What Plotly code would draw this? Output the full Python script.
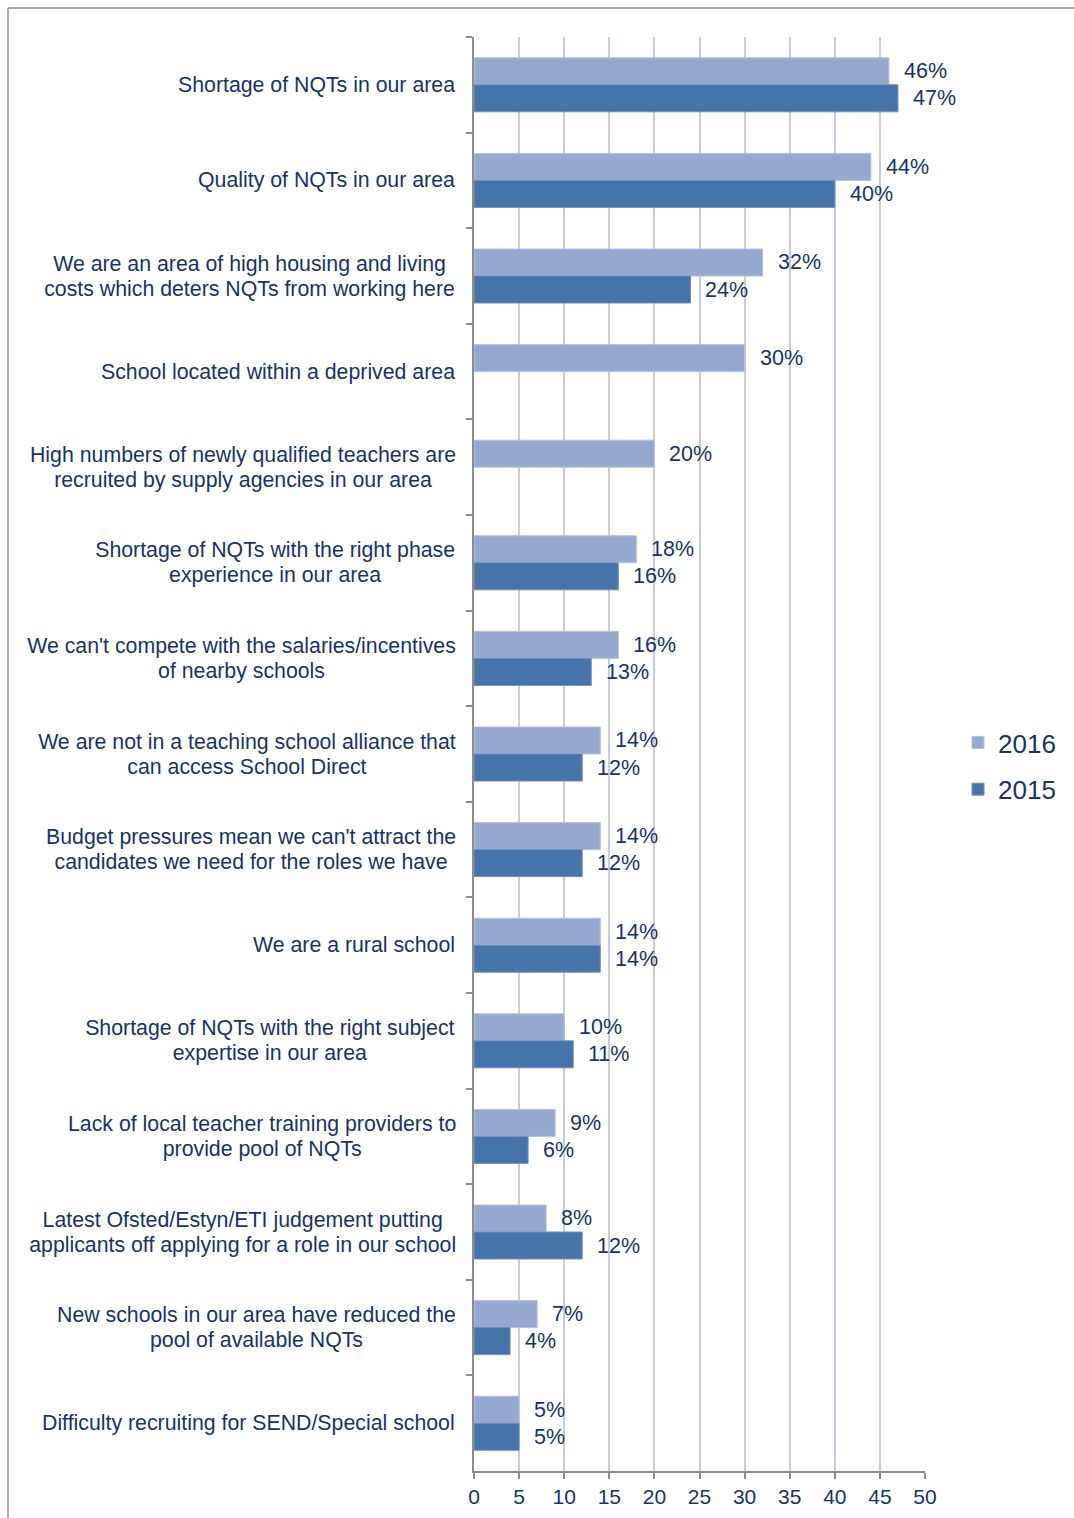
import plotly.graph_objects as go

# Reasons given for difficulty recruiting NQTs (% of respondents)
categories = [
    "Shortage of NQTs in our area",
    "Quality of NQTs in our area",
    "We are an area of high housing and living<br>costs which deters NQTs from working here",
    "School located within a deprived area",
    "High numbers of newly qualified teachers are<br>recruited by supply agencies in our area",
    "Shortage of NQTs with the right phase<br>experience in our area",
    "We can't compete with the salaries/incentives<br>of nearby schools",
    "We are not in a teaching school alliance that<br>can access School Direct",
    "Budget pressures mean we can't attract the<br>candidates we need for the roles we have",
    "We are a rural school",
    "Shortage of NQTs with the right subject<br>expertise in our area",
    "Lack of local teacher training providers to<br>provide pool of NQTs",
    "Latest Ofsted/Estyn/ETI judgement putting<br>applicants off applying for a role in our school",
    "New schools in our area have reduced the<br>pool of available NQTs",
    "Difficulty recruiting for SEND/Special school",
]
values_2016 = [46, 44, 32, 30, 20, 18, 16, 14, 14, 14, 10, 9, 8, 7, 5]
values_2015 = [47, 40, 24, None, None, 16, 13, 12, 12, 14, 11, 6, 12, 4, 5]
x_ticks = [0, 5, 10, 15, 20, 25, 30, 35, 40, 45, 50]

TEXT = "#17346a"
FONT = "Liberation Sans, Arial, sans-serif"
C2016 = "#95a9d0"
C2015 = "#4674a8"

W, H = 1074, 1518
ML, MR, MT, MB = 474, 149, 37, 47
PW, PH = W - ML - MR, H - MT - MB
LABEL_SIZE = 21.3
LINE_H = 25  # line spacing for wrapped category labels, px

# Arial / Liberation Sans advance widths (1/1000 em) for sizing label boxes
_W = dict(zip("abcdefghijklmnopqrstuvwxyz",
              [556, 556, 500, 556, 556, 278, 556, 556, 222, 222, 500, 222, 833,
               556, 556, 556, 556, 333, 500, 278, 556, 500, 722, 500, 500, 500]))
_W.update(zip("ABCDEFGHIJKLMNOPQRSTUVWXYZ",
              [667, 667, 722, 722, 667, 611, 778, 722, 278, 500, 667, 556, 833,
               722, 778, 667, 778, 722, 667, 611, 722, 667, 944, 667, 667, 611]))
_W.update({" ": 278, "'": 191, "/": 278, "-": 333, ".": 278})


def text_width(s, size):
    return sum(_W.get(c, 556) for c in s) * size / 1000.0


fig = go.Figure()
fig.add_trace(go.Bar(
    name="2016", y=categories, x=values_2016, orientation="h",
    legendgroup="a",
    marker=dict(color=C2016, line=dict(color="#b4c3e0", width=1)),
))
fig.add_trace(go.Bar(
    name="2015", y=categories, x=values_2015, orientation="h",
    legendgroup="b",
    marker=dict(color=C2015, line=dict(color="#6d90bd", width=1)),
))

annotations = []
# value labels, one per bar, just right of each bar end
for series, offset in ((values_2016, -0.1413), (values_2015, 0.1413)):
    for i, v in enumerate(series):
        if v is None:
            continue
        annotations.append(dict(
            x=v, y=i + offset, xref="x", yref="y", text=f"{v}%",
            showarrow=False, xanchor="left", yanchor="middle", xshift=13,
            font=dict(family=FONT, size=21.5, color=TEXT),
        ))

# category labels: block right-aligned to the axis, each line centred in it
for cat in categories:
    lines = cat.split("<br>")
    n = len(lines)
    box_w = max(text_width(s, LABEL_SIZE) for s in lines) + 2
    for j, line in enumerate(lines):
        ann = dict(
            x=0, y=cat, xref="paper", yref="y", text=line, showarrow=False,
            xanchor="right", yanchor="middle", align="center",
            xshift=-17, yshift=((n - 1) / 2 - j) * LINE_H,
            font=dict(family=FONT, size=LABEL_SIZE, color=TEXT),
        )
        if n > 1:
            ann["width"] = box_w
            ann["xshift"] = -15
        annotations.append(ann)

# outer frame line (top and left edges)
px = lambda p: (p - ML) / PW
py = lambda p: (H - MB - p) / PH
shapes = [
    dict(type="line", xref="paper", yref="paper", x0=px(8), x1=px(1080),
         y0=py(8), y1=py(8), line=dict(color="#8c8c8c", width=1.5)),
    dict(type="line", xref="paper", yref="paper", x0=px(8), x1=px(8),
         y0=py(8), y1=py(1520), line=dict(color="#8c8c8c", width=1.5)),
]

fig.update_layout(
    width=W, height=H,
    margin=dict(l=ML, r=MR, t=MT, b=MB, pad=0, autoexpand=False),
    paper_bgcolor="white", plot_bgcolor="white",
    barmode="group", bargap=0.435, bargroupgap=0,
    font=dict(family=FONT, size=21, color=TEXT),
    showlegend=True,
    legend=dict(
        x=px(958), y=py(766), xanchor="left", yanchor="middle",
        font=dict(family=FONT, size=26, color=TEXT),
        traceorder="grouped", itemwidth=30, tracegroupgap=10,
        bgcolor="rgba(0,0,0,0)",
    ),
    xaxis=dict(
        range=[0, 50], tickvals=x_ticks, ticktext=[str(t) for t in x_ticks],
        showgrid=True, gridcolor="#c6cedd", gridwidth=2,
        zeroline=False, showline=True, linecolor="#8c8c8c", linewidth=2,
        ticks="outside", ticklen=6, tickcolor="#8c8c8c", tickwidth=2,
        tickfont=dict(family=FONT, size=21, color=TEXT), fixedrange=True,
    ),
    yaxis=dict(
        categoryorder="array", categoryarray=categories, autorange="reversed",
        showticklabels=False, showgrid=False, zeroline=False,
        showline=True, linecolor="#8c8c8c", linewidth=2,
        ticks="outside", tickson="boundaries", ticklen=6,
        tickcolor="#8c8c8c", tickwidth=2,
    ),
    annotations=annotations,
    shapes=shapes,
)

fig.write_html("out.html")
